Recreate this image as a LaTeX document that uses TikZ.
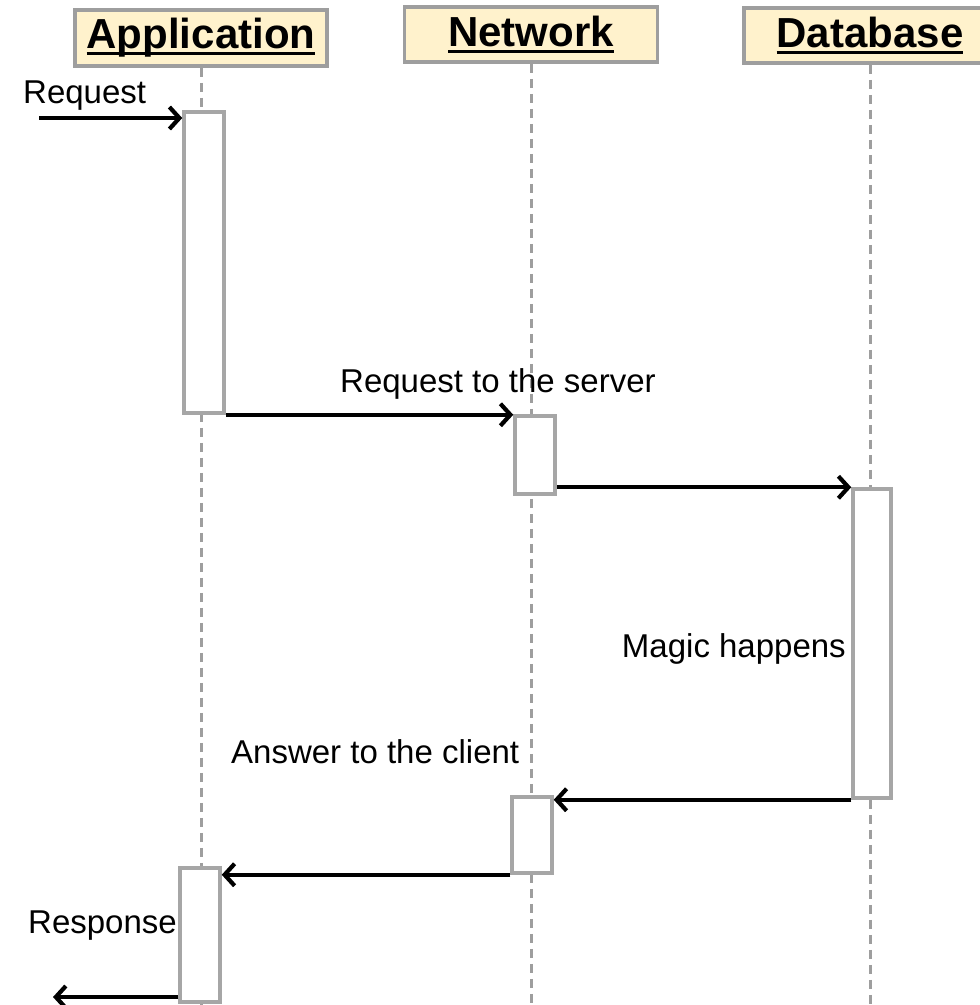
\documentclass[tikz,border=0pt]{standalone}
\usepackage{fontspec}
\setmainfont{Liberation Sans}
\usetikzlibrary{arrows.meta,positioning}

\definecolor{headfill}{HTML}{FFF2CC}
\definecolor{boxgray}{HTML}{A6A6A6}
\definecolor{lifegray}{HTML}{9E9E9E}

% thick underline for the lifeline heads
\newcommand{\headline}[1]{\setbox0\hbox{#1}\rlap{\rule[-6pt]{\wd0}{3.2pt}}\box0}

\begin{document}
\begin{tikzpicture}[x=1pt, y=-1pt, >={Straight Barb[length=10pt,width=22pt]},
    every node/.style={font=\fontsize{33}{38}\selectfont},
    head/.style={draw=lifegray, line width=3.5pt, fill=headfill, inner sep=0pt, font=\fontsize{42}{48}\selectfont\bfseries},
    actbox/.style={draw=boxgray, line width=3.5pt, fill=white, inner sep=0pt, minimum width=40pt},
    life/.style={draw=lifegray, line width=3pt, dash pattern=on 9pt off 6pt},
    msg/.style={->, line width=4.2pt, black}]
    \useasboundingbox (0,0) rectangle (980,1005);
    \clip (0,0) rectangle (980,1005);

    % Lifeline heads
    \node[head, minimum width=252pt, minimum height=56pt] (app) at (201,38) {\headline{Application}};
    \node[head, minimum width=253pt, minimum height=55pt] (net) at (531,34.5) {\headline{Network}};
    \node[head, minimum width=252pt, minimum height=55pt] (db) at (870,35.5) {\headline{Database}};

    % Lifelines
    \coordinate (bottom) at (0,1010);
    \draw[life] (app.south) -- (app.south |- bottom);
    \draw[life] (net.south) -- (net.south |- bottom);
    \draw[life] (db.south) -- (db.south |- bottom);

    % Activation boxes
    \node[actbox, minimum height=301pt] (app1) at (204,262.5) {};
    \node[actbox, minimum height=78pt] (net1) at (535,455) {};
    \node[actbox, minimum width=38pt, minimum height=309pt] (db1) at (872,643.5) {};
    \node[actbox, minimum height=76pt] (net2) at (532,835) {};
    \node[actbox, minimum height=134pt] (app2) at (200,935) {};

    % Messages
    \coordinate (reqin) at (39,118);
    \coordinate (resout) at (53,997);
    \draw[msg] (reqin) -- (reqin -| app1.west);
    \draw[msg] (app1.south east) -- (app1.south east -| net1.west);
    \draw[msg] (net1.east |- db1.north) -- (db1.north west);
    \draw[msg] (db1.south west) -- (db1.south west -| net2.east);
    \draw[msg] (net2.south west) -- (net2.south west -| app2.east);
    \draw[msg] (app2.west |- resout) -- (resout);

    % Labels
    \node[anchor=base west, inner sep=0pt] (lreq) at (23,103) {Request};
    \node[anchor=base west, inner sep=0pt] (lserver) at (340,392) {Request to the server};
    \node[anchor=base east, inner sep=0pt] (lmagic) at (846,657) {Magic happens};
    \node[anchor=base west, inner sep=0pt] (lclient) at (231,763) {Answer to the client};
    \node[anchor=base west, inner sep=0pt] (lres) at (28,933) {Response};
\end{tikzpicture}
\end{document}
